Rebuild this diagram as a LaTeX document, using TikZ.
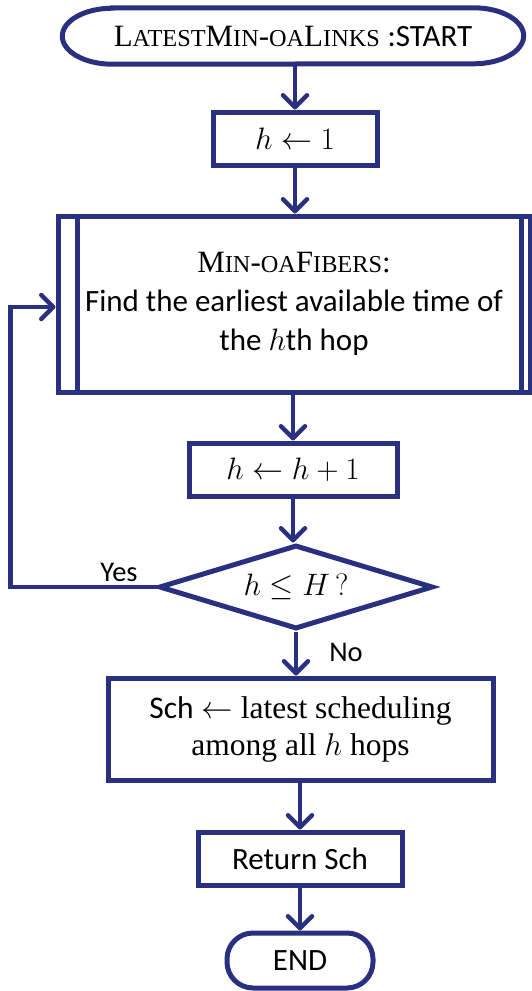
\RequirePackage{fix-cm}
\documentclass[tikz,border=0pt]{standalone}
\usepackage{fontspec}
\setmainfont{Liberation Serif}
\newfontfamily\calib{Carlito}
\usetikzlibrary{arrows.meta,shapes.geometric}
\definecolor{navy}{RGB}{42,48,128}
% reduced capitals for the small-caps procedure names
\newcommand\smc[1]{{\fontsize{24.3}{25}\selectfont #1}}

\begin{document}
\begin{tikzpicture}[x=1pt,y=1pt,
  box/.style={draw=navy, line width=5pt, fill=white, inner sep=0pt,
    align=center, font=\fontsize{31}{39}\selectfont},
  flow/.style={draw=navy, line width=4.5pt,
    -{Straight Barb[length=12pt,width=24pt,line cap=round,line join=round]}},
  lbl/.style={font=\calib\fontsize{28.5}{30}\selectfont, inner sep=0pt}]
\useasboundingbox (0,0) rectangle (532,-991);

% start terminal with elliptical ends
\node[inner sep=0pt, minimum width=461pt, minimum height=56pt,
      font=\fontsize{31}{36}\selectfont] (start) at (293,-36)
  {L\smc{ATEST}M\smc{IN}-\smc{OA}L\smc{INKS} {\calib:START}};
\draw[navy, line width=5pt]
  ([xshift=50pt]start.north west) -- ([xshift=-50pt]start.north east)
  arc[start angle=90, end angle=-90, x radius=50pt, y radius=28pt]
  -- ([xshift=50pt]start.south west)
  arc[start angle=270, end angle=90, x radius=50pt, y radius=28pt] -- cycle;

\node[box, minimum width=164pt, minimum height=53pt] (h1) at (295,-138.5)
  {$h \leftarrow 1$};

% predefined-process box
\node[box, minimum width=472pt, minimum height=176pt] (fib) at (294,-304)
  {M\smc{IN}-\smc{OA}F\smc{IBERS}:\\
   {\calib Find the earliest available time of}\\
   {\calib the $h$th hop}};
\draw[navy, line width=5pt] ([xshift=22pt]fib.north west) -- ([xshift=22pt]fib.south west);
\draw[navy, line width=5pt] ([xshift=-11pt]fib.north east) -- ([xshift=-11pt]fib.south east);

\node[box, minimum width=208pt, minimum height=53pt] (hh) at (293,-469.5)
  {$h \leftarrow h+1$};

\node[box, diamond, aspect=3.26, minimum width=274pt, minimum height=84pt] (dia) at (296,-587)
  {$h \leq H\,?$};

\node[box, minimum width=385pt, minimum height=102pt, font=\fontsize{31.5}{37}\selectfont] (sch) at (300.5,-729)
  {{\calib Sch} $\leftarrow$ latest scheduling\\ among all $h$ hops};

\node[box, minimum width=204pt, minimum height=53pt, font=\calib\fontsize{31}{36}\selectfont] (ret) at (300,-858.5)
  {Return Sch};

\node[box, rounded corners=26pt, minimum width=146pt, minimum height=55pt,
      font=\calib\fontsize{31}{36}\selectfont] (end) at (300,-960.5) {END};

% connectors
\draw[flow] (start.south -| h1.north) -- (h1.north);
\draw[flow] (h1.south) -- (h1.south |- fib.north);
\draw[flow] (fib.south -| hh.north) -- (hh.north);
\draw[flow] (hh.south) -- (hh.south |- dia.north);
\draw[flow] (dia.south) -- (dia.south |- sch.north);
\draw[flow] (sch.south -| ret.north) -- (ret.north);
\draw[flow] (ret.south) -- (end.north);
\draw[flow] (dia.west) -- ++(-146,0) |- ([yshift=-3pt]fib.west);

\node[lbl] (yes) at (119,-572) {Yes};
\node[lbl] (no) at (346,-652) {No};
\end{tikzpicture}
\end{document}
